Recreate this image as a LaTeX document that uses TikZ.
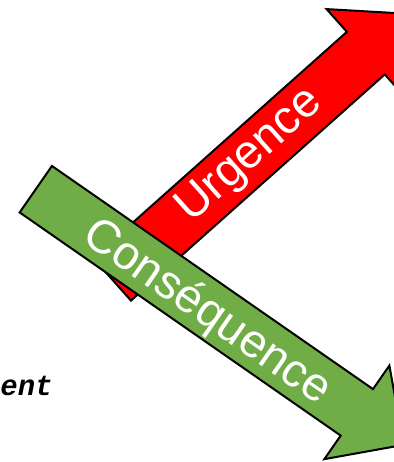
\documentclass[tikz,border=0pt]{standalone}
\usepackage{fontspec}
\setsansfont{Liberation Sans}
\setmonofont{Liberation Mono}
\usepackage{tikz}
\usetikzlibrary{calc, positioning}

\definecolor{urgred}{RGB}{255,0,0}
\definecolor{conseqgreen}{RGB}{112,173,71}

\begin{document}
\begin{tikzpicture}[x=0.5pt, y=0.5pt,
    bigarrow/.style={draw=black, line width=1pt, line join=miter},
    arrowlabel/.style={text=white, inner sep=0pt,
        font=\fontsize{23.5}{28}\selectfont\sffamily}]
\useasboundingbox (0,0) rectangle (393,462);

\begin{scope}[shift={(112,182.7)}, rotate=41.7]
\draw[bigarrow, fill=urgred] (0,-28.5) -- (340,-28.5) -- (340,-59) -- (399,0)
    -- (340,59) -- (340,28.5) -- (0,28.5) -- cycle;
\node[arrowlabel, rotate=41.7] (urgence) at (185,0) {Urgence};
\end{scope}

\begin{scope}[shift={(35.8,272.8)}, rotate=-34.8]
\draw[bigarrow, fill=conseqgreen] (0,-28.3) -- (391,-28.3) -- (391,-57) -- (448,0)
    -- (391,57) -- (391,28.3) -- (0,28.3) -- cycle;
\node[arrowlabel, rotate=-34.8] (consequence) at (211,-4) {Conséquence};
\end{scope}

\node[anchor=base east, inner sep=0pt,
    font=\fontsize{14.5}{17}\selectfont\ttfamily\bfseries\itshape] (ent) at (53,67) {ent};

\end{tikzpicture}
\end{document}
